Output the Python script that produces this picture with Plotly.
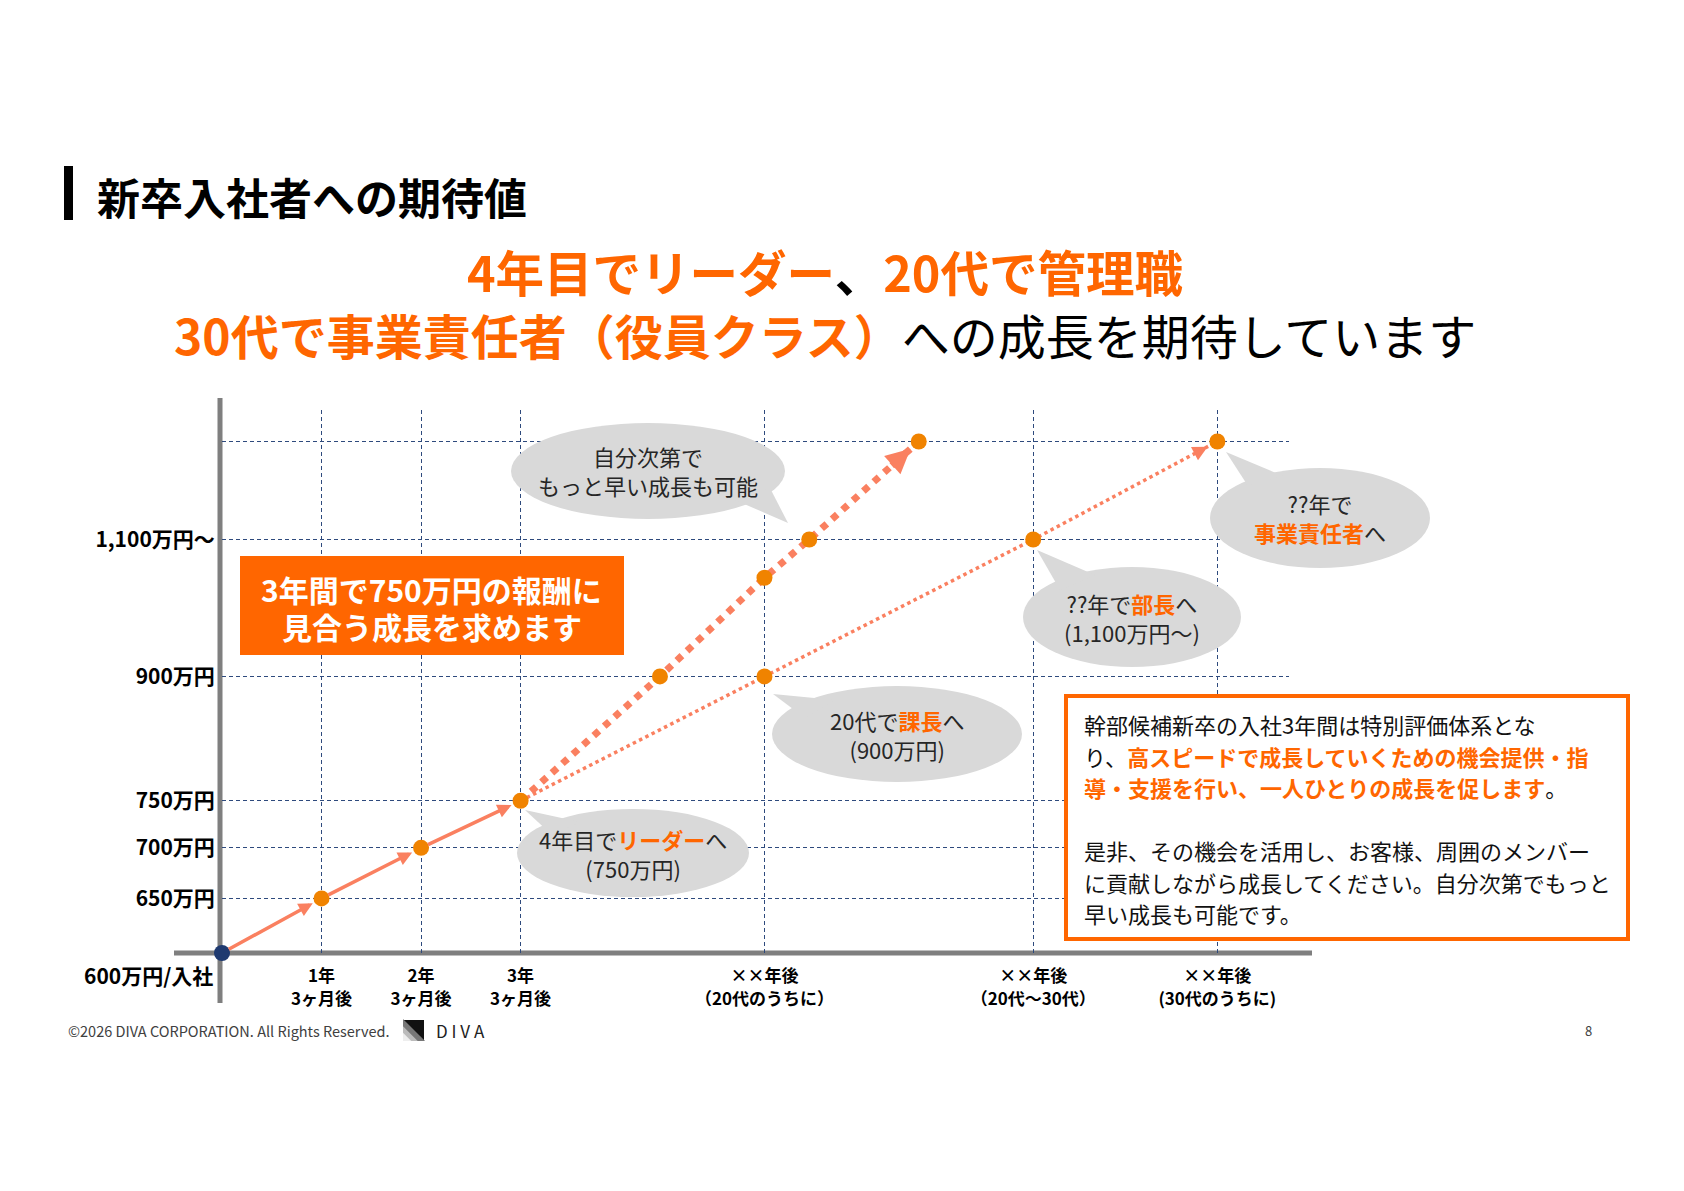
import numpy as np
import plotly.graph_objects as go

# ---- data (schematic timeline, salary in 万円) ----
x_tick_vals = [1, 2, 3, 5.45, 8.15, 10]
x_tick_text = ["1年<br>3ヶ月後", "2年<br>3ヶ月後", "3年<br>3ヶ月後",
               "××年後<br>（20代のうちに）", "××年後<br>（20代～30代）", "××年後<br>(30代のうちに)"]
y_tick_vals = [650, 700, 750, 900, 1100, 1270]
y_tick_text = ["650万円", "700万円", "750万円", "900万円", "1,100万円～", ""]

first_x = [0, 1, 2, 3]
first_y = [600, 650, 700, 750]
fast_x = [3, 4.4, 5.45, 5.9, 7.0]
fast_y = [750, 900, 1040, 1100, 1270]
normal_x = [3, 5.45, 8.15, 10]
normal_y = [750, 900, 1100, 1270]

ORANGE = "#FF6600"
DOT = "#F08300"
SALMON = "#FA8060"
NAVY = "#1F3A70"
GRID = "#2E4A7D"
BUBBLE = "#D9D9D9"
FONT = "Noto Sans CJK JP"

# page is drawn with an 8px body margin, so map screen pixels to paper
W, H, OFF = 1668, 1175, 8


def px(X):
    return (X - OFF) / W


def py(Y):
    return 1 - (Y - OFF) / H


fig = go.Figure()

# dotted / dashed growth tracks
fig.add_trace(go.Scatter(x=normal_x, y=normal_y, mode="lines",
                         line=dict(color=SALMON, width=3.5, dash="dot"), hoverinfo="skip"))
fig.add_trace(go.Scatter(x=fast_x, y=fast_y, mode="lines",
                         line=dict(color=SALMON, width=7, dash="dot"), hoverinfo="skip"))

# milestone dots
fig.add_trace(go.Scatter(x=first_x[1:] + fast_x[1:] + normal_x[1:],
                         y=first_y[1:] + fast_y[1:] + normal_y[1:], cliponaxis=False,
                         mode="markers", marker=dict(color=DOT, size=16), hoverinfo="skip"))
fig.add_trace(go.Scatter(x=first_x[:1], y=first_y[:1], mode="markers", cliponaxis=False,
                         marker=dict(color=NAVY, size=16), hoverinfo="skip"))

annotations = []
shapes = []


def arrow(x0, y0, x1, y1, width, size, standoff, startstandoff=0):
    annotations.append(dict(x=x1, y=np.log10(y1), ax=x0, ay=np.log10(y0),
                            xref="x", yref="y", axref="x", ayref="y", text="",
                            showarrow=True, arrowhead=2, arrowsize=size, arrowwidth=width,
                            arrowcolor=SALMON, standoff=standoff, startstandoff=startstandoff))


# solid arrows for the first three years
for i in range(len(first_x) - 1):
    arrow(first_x[i], first_y[i], first_x[i + 1], first_y[i + 1], 3.5, 0.8, 10, 6)

# arrow heads at the end of the two tracks
for xs, ys, w, s, f in [(fast_x, fast_y, 7, 0.7, 0.74), (normal_x, normal_y, 3.5, 0.85, 0.88)]:
    l0, l1 = np.log10(ys[-2]), np.log10(ys[-1])
    annotations.append(dict(x=xs[-1], y=l1, ax=xs[-2] + f * (xs[-1] - xs[-2]), ay=l0 + f * (l1 - l0),
                            xref="x", yref="y", axref="x", ayref="y", text="", showarrow=True,
                            arrowhead=2, arrowsize=s, arrowwidth=w, arrowcolor=SALMON, standoff=11))


def label(X, Y, text, size, color="#000000", xanchor="center", yanchor="middle", align="center"):
    annotations.append(dict(x=px(X), y=py(Y), xref="paper", yref="paper", text=text,
                            showarrow=False, xanchor=xanchor, yanchor=yanchor, align=align,
                            font=dict(size=size, color=color, family=FONT)))


def callout(cx, cy, rx, ry, tip, b1, b2, text):
    shapes.append(dict(type="circle", xref="paper", yref="paper",
                       x0=px(cx - rx), x1=px(cx + rx), y0=py(cy + ry), y1=py(cy - ry),
                       fillcolor=BUBBLE, line_width=0, layer="above"))
    pts = [tip, b1, b2]
    path = "M " + " L ".join(f"{px(a):.5f},{py(b):.5f}" for a, b in pts) + " Z"
    shapes.append(dict(type="path", xref="paper", yref="paper", path=path,
                       fillcolor=BUBBLE, line_width=0, layer="above"))
    label(cx, cy, text, 22, "#262626")


def hl(t):
    return f"<span style='color:{ORANGE}'><b>{t}</b></span>"


callout(648, 471, 137, 48, (788, 523), (735, 500), (770, 488), "自分次第で<br>もっと早い成長も可能")
callout(1320, 518, 110, 50, (1226, 452), (1248, 486), (1283, 476), "??年で<br>" + hl("事業責任者") + "へ")
callout(1132, 617, 109, 50, (1037, 550), (1060, 590), (1095, 575), "??年で" + hl("部長") + "へ<br>(1,100万円～)")
callout(897, 734, 125, 48, (773, 694), (805, 718), (835, 700), "20代で" + hl("課長") + "へ<br>(900万円)")
callout(633, 853, 116, 44, (525, 810), (552, 835), (580, 822), "4年目で" + hl("リーダー") + "へ<br>(750万円)")

# axis lines (extend past the plot area like the slide)
shapes.append(dict(type="line", xref="paper", yref="paper", x0=px(220), x1=px(220), y0=py(1003), y1=py(398),
                   line=dict(color="#7F7F7F", width=5), layer="below"))
shapes.append(dict(type="line", xref="paper", yref="paper", x0=px(174), x1=px(1312), y0=py(953), y1=py(953),
                   line=dict(color="#7F7F7F", width=5), layer="below"))

# title bar
shapes.append(dict(type="rect", xref="paper", yref="paper", x0=px(64), x1=px(73), y0=py(220), y1=py(166),
                   fillcolor="#000000", line_width=0))
label(95, 196, "<b>新卒入社者への期待値</b>", 43, xanchor="left")

# headline
label(825, 271, f"<b><span style='color:{ORANGE}'>4年目でリーダー</span>、<span style='color:{ORANGE}'>20代で管理職</span></b>", 48.5)
label(825, 334, f"<b><span style='color:{ORANGE}'>30代で事業責任者（役員クラス）</span></b>への成長を期待しています", 48)

# orange message box
shapes.append(dict(type="rect", xref="paper", yref="paper", x0=px(240), x1=px(624), y0=py(655), y1=py(556),
                   fillcolor=ORANGE, line_width=0, layer="above"))
label(432, 589, "<b>3年間で750万円の報酬に</b>", 30, "#FFFFFF")
label(432, 626, "<b>見合う成長を求めます</b>", 30, "#FFFFFF")

# explanation box
shapes.append(dict(type="rect", xref="paper", yref="paper", x0=px(1066), x1=px(1628), y0=py(939), y1=py(696),
                   fillcolor="#FFFFFF", line=dict(color=ORANGE, width=4), layer="above"))
box_lines = ["幹部候補新卒の入社3年間は特別評価体系とな",
             "り、" + hl("高スピードで成長していくための機会提供・指"),
             hl("導・支援を行い、一人ひとりの成長を促します") + "。",
             "",
             "是非、その機会を活用し、お客様、周囲のメンバー",
             "に貢献しながら成長してください。自分次第でもっと",
             "早い成長も可能です。"]
for i, t in enumerate(box_lines):
    if t:
        label(1082, 724 + 31.5 * i, t, 22, "#111111", xanchor="left")

# origin label
label(215, 975, "<b>600万円/入社</b>", 21, xanchor="right")

# footer
label(66, 1030, "©2026 DIVA CORPORATION. All Rights Reserved.", 14.5, "#404040", xanchor="left")
shapes.append(dict(type="rect", xref="paper", yref="paper", x0=px(403), x1=px(424), y0=py(1041), y1=py(1020),
                   fillcolor="#111111", line_width=0))
for k, c in [(0.75, "#777777"), (0.5, "#BBBBBB"), (0.28, "#EEEEEE")]:
    p = f"M {px(403):.5f},{py(1041):.5f} L {px(403 + 21 * k * 1.4):.5f},{py(1041):.5f} L {px(403):.5f},{py(1041 - 21 * k * 1.4):.5f} Z"
    shapes.append(dict(type="path", xref="paper", yref="paper", path=p, fillcolor=c, line_width=0))
label(434, 1031, "D I V A", 17, "#222222", xanchor="left")
label(1588, 1030, "8", 13, "#404040")

fig.update_layout(
    width=W, height=H, autosize=False,
    margin=dict(l=0, r=0, t=0, b=0),
    paper_bgcolor="white", plot_bgcolor="rgba(0,0,0,0)",
    showlegend=False,
    font=dict(family=FONT, color="#000000"),
    shapes=shapes, annotations=annotations,
    xaxis=dict(domain=[px(222), px(1289)], range=[0, 10.72], tickvals=x_tick_vals, ticktext=x_tick_text,
               showgrid=True, gridcolor=GRID, gridwidth=1, griddash="4px,3px", zeroline=False,
               showline=False, ticks="outside", ticklen=8, tickcolor="rgba(0,0,0,0)",
               tickfont=dict(size=17, weight="bold", family=FONT)),
    yaxis=dict(domain=[py(953), py(410)], type="log", range=[np.log10(600), np.log10(1330)],
               tickvals=y_tick_vals, ticktext=y_tick_text,
               showgrid=True, gridcolor=GRID, gridwidth=1, griddash="4px,3px", zeroline=False,
               showline=False, ticks="outside", ticklen=2, tickcolor="rgba(0,0,0,0)",
               tickfont=dict(size=21, weight="bold", family=FONT)),
)

fig.write_html("out.html")
